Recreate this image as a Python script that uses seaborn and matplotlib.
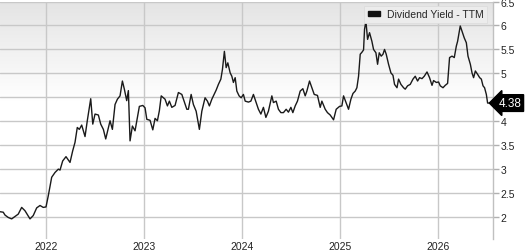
import numpy as np
import pandas as pd
import matplotlib
matplotlib.use("Agg")
import matplotlib.pyplot as plt
from matplotlib.patches import Patch
import seaborn as sns

# decimal-year positions and dividend yield (%) values
years = [
    2021.531, 2021.564, 2021.582, 2021.615, 2021.650, 2021.684, 2021.717, 2021.752, 2021.786, 2021.837,
    2021.870, 2021.905, 2021.939, 2021.972, 2022.000, 2022.023, 2022.058, 2022.092, 2022.126, 2022.143,
    2022.170, 2022.204, 2022.245, 2022.272, 2022.296, 2022.319, 2022.340, 2022.364, 2022.398, 2022.421,
    2022.456, 2022.477, 2022.500, 2022.534, 2022.558, 2022.585, 2022.609, 2022.653, 2022.677, 2022.704,
    2022.728, 2022.755, 2022.779, 2022.799, 2022.823, 2022.840, 2022.857, 2022.881, 2022.908, 2022.952,
    2022.987, 2023.010, 2023.028, 2023.061, 2023.089, 2023.112, 2023.136, 2023.156, 2023.175, 2023.214,
    2023.238, 2023.258, 2023.283, 2023.316, 2023.350, 2023.385, 2023.408, 2023.436, 2023.452, 2023.480,
    2023.503, 2023.531, 2023.564, 2023.589, 2023.622, 2023.646, 2023.666, 2023.691, 2023.714, 2023.735,
    2023.758, 2023.783, 2023.799, 2023.819, 2023.837, 2023.854, 2023.878, 2023.895, 2023.911, 2023.929,
    2023.946, 2023.969, 2023.990, 2024.013, 2024.031, 2024.064, 2024.089, 2024.115, 2024.143, 2024.166,
    2024.191, 2024.217, 2024.242, 2024.268, 2024.303, 2024.319, 2024.347, 2024.370, 2024.395, 2024.421,
    2024.449, 2024.472, 2024.497, 2024.517, 2024.541, 2024.564, 2024.592, 2024.619, 2024.643, 2024.660,
    2024.687, 2024.711, 2024.735, 2024.768, 2024.796, 2024.813, 2024.847, 2024.870, 2024.898, 2024.932,
    2024.959, 2024.993, 2025.017, 2025.034, 2025.061, 2025.085, 2025.109, 2025.130, 2025.153, 2025.170,
    2025.187, 2025.204, 2025.221, 2025.238, 2025.248, 2025.262, 2025.279, 2025.299, 2025.323, 2025.340,
    2025.364, 2025.381, 2025.398, 2025.418, 2025.436, 2025.452, 2025.469, 2025.493, 2025.517, 2025.538,
    2025.554, 2025.579, 2025.595, 2025.619, 2025.646, 2025.663, 2025.687, 2025.714, 2025.742, 2025.765,
    2025.789, 2025.809, 2025.834, 2025.857, 2025.885, 2025.911, 2025.936, 2025.952, 2025.980, 2026.003,
    2026.020, 2026.048, 2026.071, 2026.095, 2026.115, 2026.140, 2026.163, 2026.184, 2026.197, 2026.224,
    2026.242, 2026.265, 2026.286, 2026.303, 2026.327, 2026.344, 2026.360, 2026.378, 2026.401, 2026.422,
    2026.439, 2026.456, 2026.472, 2026.490, 2026.503, 2026.531, 2026.558,
]
yield_ttm = [
    2.11, 2.10, 2.04, 1.99, 1.96, 2.01, 2.06, 2.20, 2.13, 1.96,
    2.03, 2.19, 2.24, 2.20, 2.21, 2.44, 2.83, 2.93, 3.00, 2.98,
    3.17, 3.26, 3.14, 3.38, 3.56, 3.87, 3.83, 3.92, 3.68, 4.01,
    4.47, 3.94, 4.15, 4.13, 3.94, 3.83, 3.63, 4.01, 3.83, 4.35,
    4.46, 4.53, 4.84, 4.67, 4.43, 4.64, 3.59, 3.90, 3.80, 4.31,
    4.33, 4.28, 4.04, 4.02, 3.82, 4.06, 4.01, 4.22, 4.53, 4.46,
    4.32, 4.42, 4.29, 4.33, 4.60, 4.56, 4.42, 4.25, 4.25, 4.56,
    4.35, 4.21, 3.83, 4.21, 4.49, 4.42, 4.32, 4.46, 4.56, 4.65,
    4.77, 4.88, 5.08, 5.46, 5.12, 5.22, 5.01, 4.94, 4.81, 4.91,
    4.63, 4.53, 4.49, 4.56, 4.42, 4.40, 4.42, 4.56, 4.39, 4.25,
    4.15, 4.29, 4.08, 4.21, 4.53, 4.39, 4.42, 4.25, 4.18, 4.18,
    4.25, 4.19, 4.29, 4.18, 4.32, 4.42, 4.63, 4.68, 4.53, 4.63,
    4.84, 4.70, 4.56, 4.54, 4.29, 4.42, 4.25, 4.18, 4.13, 4.03,
    4.25, 4.31, 4.32, 4.53, 4.38, 4.25, 4.46, 4.58, 4.63, 4.70,
    4.94, 5.40, 5.44, 5.49, 5.92, 6.09, 5.71, 5.85, 5.67, 5.50,
    5.43, 5.19, 5.43, 5.36, 5.40, 5.50, 5.40, 5.19, 5.01, 4.96,
    4.77, 4.70, 4.88, 4.77, 4.70, 4.67, 4.74, 4.77, 4.88, 4.94,
    4.84, 4.91, 4.89, 4.94, 5.03, 4.91, 4.75, 4.85, 4.81, 4.82,
    4.74, 4.70, 4.75, 4.79, 5.33, 5.36, 5.33, 5.57, 5.67, 5.99,
    5.88, 5.74, 5.64, 5.36, 5.19, 5.01, 4.91, 5.05, 4.98, 4.91,
    4.88, 4.74, 4.70, 4.56, 4.38, 4.38, 4.38,
]
year_ticks = [2022, 2023, 2024, 2025, 2026]
yield_ticks = [2, 2.5, 3, 3.5, 4, 4.5, 5, 5.5, 6, 6.5]
yield_tick_labels = ["2", "2.5", "3", "3.5", "4", "4.5", "5", "5.5", "6", "6.5"]
series_name = "Dividend Yield - TTM"
last_label = "4.38"

sns.set_theme(style="white")
plt.rcParams["font.family"] = ["Liberation Sans", "DejaVu Sans"]

df = pd.DataFrame({"year": years, "yield": yield_ttm})

fig = plt.figure(figsize=(5.27, 2.51), dpi=100)
ax = fig.add_axes([0.0, 0.0438, 0.9355, 0.946])

# background gradient: white below, light gray toward the top
grad = np.linspace(0, 1, 256).reshape(-1, 1)
grad = np.clip((grad - 0.58) / 0.42, 0, 1)
cmap = matplotlib.colors.LinearSegmentedColormap.from_list("bg", ["#ffffff", "#e4e4e4"])
ax.imshow(grad, extent=[0, 1, 0, 1], transform=ax.transAxes, cmap=cmap,
          origin="lower", aspect="auto", zorder=0, vmin=0, vmax=1)

sns.lineplot(data=df, x="year", y="yield", ax=ax, color="#1a1a1a", linewidth=1.0,
             zorder=3, legend=False)

ax.set_xlim(years[0], years[-1])
ax.set_ylim(1.54, 6.5)
ax.set_xticks(year_ticks)
ax.set_xticklabels([str(y) for y in year_ticks])
ax.set_yticks(yield_ticks)
ax.set_yticklabels(yield_tick_labels)
ax.yaxis.tick_right()
ax.grid(True, color="#c8c8c8", linewidth=1.0, zorder=1)
ax.set_axisbelow(True)
ax.set_xlabel("")
ax.set_ylabel("")

for side in ["left", "top", "bottom"]:
    ax.spines[side].set_visible(False)
ax.spines["right"].set_color("#c0c0c0")
ax.spines["right"].set_linewidth(1.0)

ax.tick_params(axis="x", length=0, pad=1.5, labelsize=7.5, colors="#222222")
ax.tick_params(axis="y", right=True, length=4, width=1, color="#b0b0b0",
               pad=1.5, labelsize=7.5, labelcolor="#222222")

leg = ax.legend(handles=[Patch(facecolor="#111111", edgecolor="#111111", label=series_name)],
                loc="upper right", bbox_to_anchor=(0.992, 0.992), fontsize=7.5,
                frameon=True, fancybox=False, handlelength=1.2, handleheight=0.45,
                handletextpad=0.6, borderpad=0.35, borderaxespad=0.2)
leg.get_frame().set_facecolor("#ececec")
leg.get_frame().set_edgecolor("#dddddd")
leg.get_frame().set_linewidth(0.6)
leg.get_frame().set_alpha(1.0)

ax.annotate(last_label, xy=(1.0, yield_ttm[-1]), xycoords=("axes fraction", "data"),
            xytext=(1.034, yield_ttm[-1]), textcoords=("axes fraction", "data"),
            ha="center", va="center", fontsize=8.5, color="white",
            bbox=dict(boxstyle="larrow,pad=0.2", facecolor="black", edgecolor="black"),
            annotation_clip=False, zorder=10)

fig.savefig("out.png", dpi=100)
